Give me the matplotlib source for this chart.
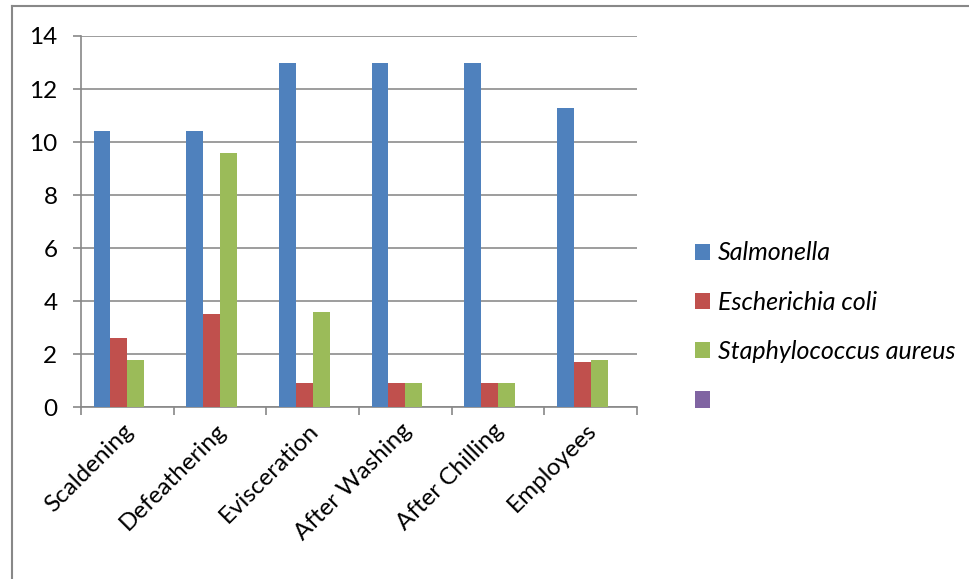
import matplotlib.pyplot as plt
import numpy as np
from matplotlib.lines import Line2D
from matplotlib.patches import Patch
from matplotlib.transforms import ScaledTranslation

# stages of processing and bacteria counts per stage
stages = ["Scaldening", "Defeathering", "Evisceration", "After Washing", "After Chilling", "Employees"]
salmonella = [10.4, 10.4, 13, 13, 13, 11.3]
e_coli = [2.6, 3.5, 0.9, 0.9, 0.9, 1.7]
s_aureus = [1.8, 9.6, 3.6, 0.9, 0.9, 1.8]
blank = [0, 0, 0, 0, 0, 0]

series = [
    ("Salmonella", salmonella, "#4F81BD"),
    ("Escherichia coli", e_coli, "#C0504D"),
    ("Staphylococcus aureus", s_aureus, "#9BBB59"),
    ("", blank, "#8064A2"),
]

plt.rcParams["font.family"] = ["Lato", "DejaVu Sans"]
FS = 17.5
W, H = 969, 579
fig = plt.figure(figsize=(W / 100, H / 100), dpi=100)

# outer frame (only top and left edges visible)
grey = "#888888"
fig.add_artist(Line2D([12 / W, 1], [1 - 6 / H, 1 - 6 / H], color=grey, lw=1.5))
fig.add_artist(Line2D([12 / W, 12 / W], [0, 1 - 6 / H], color=grey, lw=1.5))

ax = fig.add_axes([81 / W, 1 - 407.3 / H, (637 - 81) / W, (407.3 - 36) / H])

n = len(series)
bw = 1 / (n + 1.5)
x = np.arange(len(stages))
for i, (name, vals, col) in enumerate(series):
    off = (i - (n - 1) / 2) * bw
    ax.bar(x + 0.5 + off, vals, width=bw, color=col, linewidth=0, zorder=3)

ax.set_xlim(0, len(stages))
ax.set_ylim(0, 14)
ax.set_yticks(range(0, 15, 2))
ax.yaxis.grid(True, color="#8c8c8c", lw=1.2, zorder=0)
ax.set_axisbelow(True)

ax.set_xticks(np.arange(len(stages) + 1))
ax.set_xticklabels([])
ax.set_xticks(x + 0.5, minor=True)
ax.set_xticklabels(stages, minor=True, rotation=45, ha="right", rotation_mode="anchor", fontsize=FS)
ax.tick_params(axis="x", which="minor", length=0, pad=9)
ax.tick_params(axis="x", which="major", length=6, color=grey, width=1.2)
ax.tick_params(axis="y", length=6, color=grey, width=1.2, labelsize=FS, pad=11)

# nudge the slanted category labels a little to the left
shift = ScaledTranslation(-5 / 100, 0, fig.dpi_scale_trans)
for lbl in ax.get_xticklabels(minor=True):
    lbl.set_transform(lbl.get_transform() + shift)

for s in ["top", "right"]:
    ax.spines[s].set_visible(False)
for s in ["left", "bottom"]:
    ax.spines[s].set_color(grey)
    ax.spines[s].set_linewidth(1.2)

handles = [Patch(facecolor=c, edgecolor="none") for _, _, c in series]
labels = [nm for nm, _, _ in series]
leg = fig.legend(handles, labels, loc="upper left", bbox_to_anchor=(672 / W, 1 - 219 / H),
                 frameon=False, prop={"style": "italic", "size": 18},
                 handlelength=0.63, handleheight=0.63, handletextpad=0.3, labelspacing=1.05)

fig.savefig("out.png", dpi=100)
